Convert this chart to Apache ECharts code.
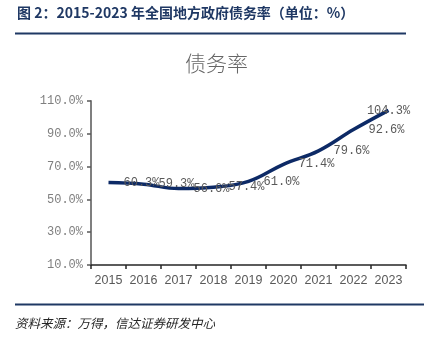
<!DOCTYPE html>
<html>
<head>
<meta charset="utf-8">
<script src="https://cdn.jsdelivr.net/npm/echarts@6/dist/echarts.min.js"></script>
<style>
  html, body { margin: 0; padding: 0; background: #fff; }
  #chart { width: 433px; height: 340px; }
</style>
</head>
<body>
<div id="chart"></div>
<script>
// Local government debt ratio, 2015–2023 (%)
var years = ['2015', '2016', '2017', '2018', '2019', '2020', '2021', '2022', '2023'];
var debtRatio = [60.3, 59.3, 56.6, 57.4, 61.0, 71.4, 79.6, 92.6, 104.3];
var yTicks = { min: 10, max: 110, interval: 20 };

var headerText = '图 2：2015-2023 年全国地方政府债务率（单位：%）';
var chartTitle = '债务率';
var sourceText = '资料来源：万得，信达证券研发中心';

var navy = '#1f3864';
var lineColor = '#0d2a66';
var labelGray = '#595959';

var seriesData = debtRatio.map(function (v, i) {
  var item = { value: v };
  if (i === debtRatio.length - 1) {
    item.label = { position: 'inside', offset: [4, -1] };
  }
  return item;
});

var chart = echarts.init(document.getElementById('chart'), null, { renderer: 'canvas' });
chart.setOption({
  animation: false,
  backgroundColor: '#fff',
  title: {
    text: chartTitle,
    left: 'center',
    top: 48,
    textStyle: {
      fontFamily: 'Noto Sans CJK SC',
      fontWeight: 300,
      fontSize: 21,
      color: '#666666'
    }
  },
  grid: { left: 91, right: 27, top: 101, bottom: 75 },
  xAxis: {
    type: 'category',
    data: years,
    boundaryGap: true,
    axisLine: { lineStyle: { color: '#262626', width: 1.5 } },
    axisTick: { show: true, length: 4, inside: false, lineStyle: { color: '#262626', width: 1.5 } },
    axisLabel: {
      interval: 0,
      margin: 9,
      color: labelGray,
      fontFamily: 'Liberation Sans',
      fontSize: 12.5
    }
  },
  yAxis: {
    type: 'value',
    min: yTicks.min,
    max: yTicks.max,
    interval: yTicks.interval,
    splitLine: { show: false },
    axisLine: { show: true, lineStyle: { color: '#7f7f7f', width: 2 } },
    axisTick: { show: true, length: 4, lineStyle: { color: '#595959', width: 1.5 } },
    axisLabel: {
      margin: 8,
      color: '#7f7f7f',
      fontFamily: 'Liberation Mono',
      fontSize: 12,
      formatter: function (v) { return v.toFixed(1) + '%'; }
    }
  },
  series: [{
    type: 'line',
    data: seriesData,
    smooth: 0.4,
    symbol: 'circle',
    symbolSize: 2,
    showSymbol: true,
    itemStyle: { color: 'rgba(0,0,0,0)', borderWidth: 0 },
    lineStyle: { color: lineColor, width: 3.5 },
    labelLayout: { hideOverlap: false },
    label: {
      show: true,
      position: 'right',
      distance: 14,
      color: labelGray,
      fontFamily: 'Liberation Mono',
      fontSize: 12,
      formatter: function (p) { return p.value.toFixed(1) + '%'; }
    }
  }],
  graphic: [
    {
      type: 'text',
      left: 17,
      top: 6,
      style: {
        text: headerText,
        fontFamily: 'Noto Sans CJK SC',
        fontWeight: 'bold',
        fontSize: 14,
        fill: navy
      }
    },
    {
      type: 'rect',
      shape: { x: 15, y: 32.5, width: 391, height: 2 },
      style: { fill: navy }
    },
    {
      type: 'rect',
      shape: { x: 15, y: 303.5, width: 409, height: 2 },
      style: { fill: navy }
    },
    {
      type: 'text',
      left: 15,
      top: 317,
      style: {
        text: sourceText,
        fontFamily: 'Noto Sans CJK SC',
        fontStyle: 'italic',
        fontSize: 12.5,
        fill: '#262626'
      }
    }
  ]
});
</script>
</body>
</html>
